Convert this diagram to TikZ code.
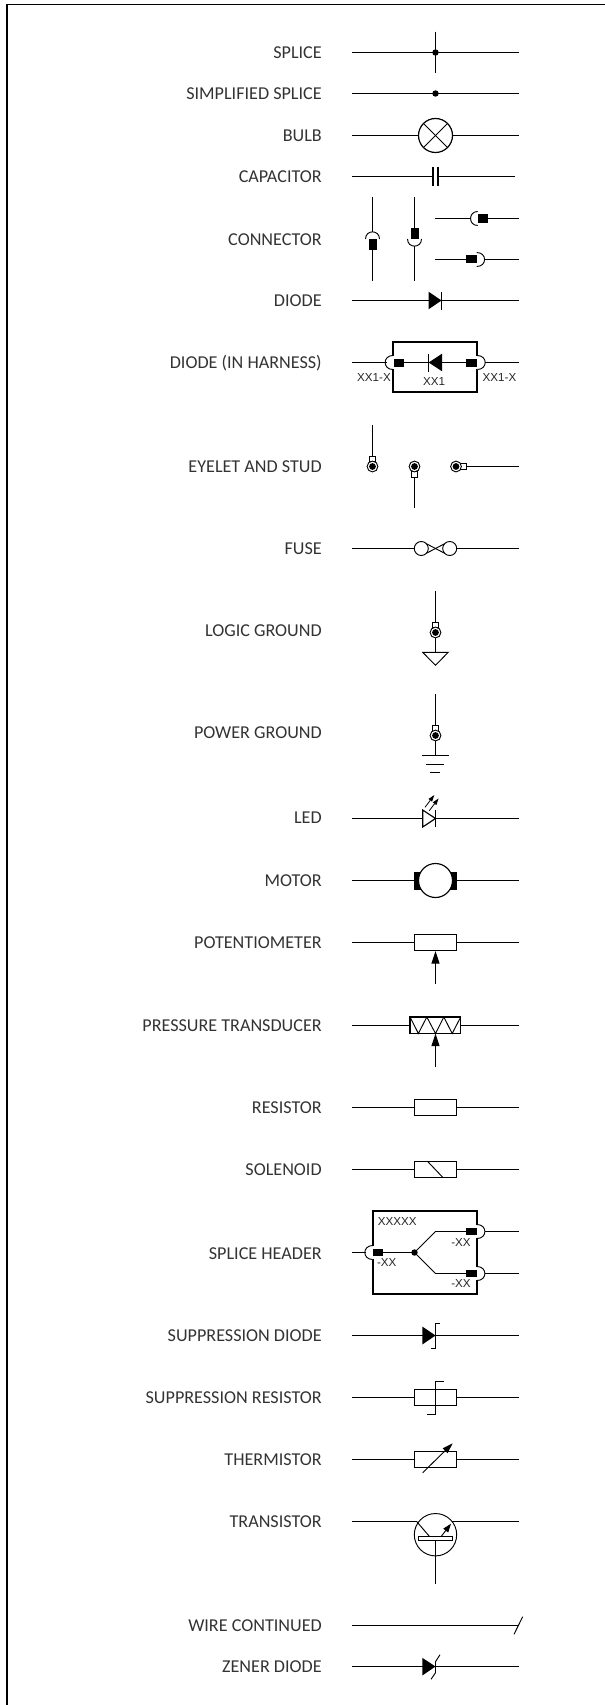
\documentclass[tikz,border=0pt]{standalone}
\usepackage{fontspec}
\setmainfont{Carlito}
\newfontfamily\tagfont{Liberation Sans}
\usetikzlibrary{arrows.meta}

\tikzset{
	symname/.style = {anchor = east, inner sep = 0, text height = 8.8pt, text depth = 0pt,
		font = \fontsize{13.6}{14}\selectfont, text = black!80},
	tagname/.style = {inner sep = 0, text height = 6.3pt, text depth = 0pt,
		font = \tagfont\fontsize{8.7}{9}\selectfont, text = black!85},
	wire/.style = {line width = 0.9pt},
	thinwire/.style = {line width = 0.7pt},
	frame/.style = {line width = 1pt},
	boxframe/.style = {line width = 1.3pt},
	plate/.style = {line width = 1.5pt},
	body/.style = {line width = 0.85pt, fill = white},
	pointer/.style = {line width = 0.9pt, -{Triangle[length = 9.5pt, width = 6pt]}},
	smallpointer/.style = {line width = 0.6pt, -{Triangle[length = 5pt, width = 3.2pt]}}
}

% resistor body at height #1
\newcommand{\resbody}[1]{\draw[body] (414.5, #1-8.4) rectangle (456.5, #1+8.4);}
% eyelet ring at (#1, #2)
\newcommand{\ringat}[2]{
	\draw[thinwire, fill = white] (#1, #2) circle (5.4);
	\fill (#1, #2) circle (3.4);
}
% mating cap through the box edge at x = #1
\newcommand{\capright}[2]{
	\fill[white] (#1-1.5, #2-6.5) rectangle (#1+1.5, #2+6.5);
	\draw[thinwire, fill = white] (#1, #2-7) .. controls +(10.5, 0) and +(10.5, 0) .. (#1, #2+7);
}
\newcommand{\capleft}[2]{
	\fill[white] (#1-1.5, #2-6.5) rectangle (#1+1.5, #2+6.5);
	\draw[thinwire, fill = white] (#1, #2-7) .. controls +(-10.5, 0) and +(-10.5, 0) .. (#1, #2+7);
}

\begin{document}
\begin{tikzpicture}[x=0.75pt, y=-0.75pt]
\useasboundingbox (0, 0) rectangle (605, 1705);
\draw[frame] (605, 4.5) -- (7, 4.5) -- (7, 1705);

\node[symname] (splice) at (322, 52.5) {SPLICE};
\node[symname] (simplified) at (322, 94) {SIMPLIFIED SPLICE};
\node[symname] (bulb) at (322, 135.5) {BULB};
\node[symname] (capacitor) at (322, 176.5) {CAPACITOR};
\node[symname] (connector) at (322, 239.5) {CONNECTOR};
\node[symname] (diode) at (322, 300.5) {DIODE};
\node[symname] (harness) at (322, 363) {DIODE (IN HARNESS)};
\node[symname] (eyelet) at (322, 466.5) {EYELET AND STUD};
\node[symname] (fuse) at (322, 549) {FUSE};
\node[symname] (logic) at (322, 631) {LOGIC GROUND};
\node[symname] (power) at (322, 733) {POWER GROUND};
\node[symname] (led) at (322, 818) {LED};
\node[symname] (motor) at (322, 880.5) {MOTOR};
\node[symname] (pot) at (322, 943) {POTENTIOMETER};
\node[symname] (pressure) at (322, 1025.5) {PRESSURE TRANSDUCER};
\node[symname] (resistor) at (322, 1108) {RESISTOR};
\node[symname] (solenoid) at (322, 1170) {SOLENOID};
\node[symname] (header) at (322, 1254) {SPLICE HEADER};
\node[symname] (suppdiode) at (322, 1335.5) {SUPPRESSION DIODE};
\node[symname] (suppres) at (322, 1398) {SUPPRESSION RESISTOR};
\node[symname] (thermistor) at (322, 1459.5) {THERMISTOR};
\node[symname] (transistor) at (322, 1522) {TRANSISTOR};
\node[symname] (continued) at (322, 1625.5) {WIRE CONTINUED};
\node[symname] (zener) at (322, 1666.5) {ZENER DIODE};

% splices
\draw[wire] (352, 52.5) -- (518.7, 52.5);
\draw[wire] (435.5, 31.7) -- (435.5, 73.5);
\fill (435.5, 52.5) circle (3.2);
\draw[wire] (352, 93.5) -- (518.7, 93.5);
\fill (435.5, 93.5) circle (3.2);

% bulb
\draw[wire] (352, 135.5) -- (518.7, 135.5);
\draw[body, line width = 0.9pt] (435.5, 135.5) circle (17);
\draw[thinwire] (423.5, 123.5) -- (447.5, 147.5);
\draw[thinwire] (423.5, 147.5) -- (447.5, 123.5);

% capacitor
\draw[wire] (352, 176.5) -- (432.5, 176.5);
\draw[wire] (438.5, 176.5) -- (514.7, 176.5);
\draw[plate] (432.7, 167) -- (432.7, 186);
\draw[plate] (438.3, 167) -- (438.3, 186);

% connectors
\draw[wire] (372.5, 197.3) -- (372.5, 232);
\draw[wire] (372.5, 250) -- (372.5, 280.7);
\draw[thinwire] (365.5, 239) .. controls +(0, -9.5) and +(0, -9.5) .. (379.5, 239);
\fill (368.7, 239.3) rectangle (376.6, 250);
\draw[wire] (414.5, 197.3) -- (414.5, 228.3);
\draw[wire] (414.5, 246) -- (414.5, 280.7);
\draw[thinwire] (407.5, 239) .. controls +(0, 9.5) and +(0, 9.5) .. (421.5, 239);
\fill (410.6, 228.3) rectangle (418.6, 239);
\draw[wire] (435, 218.5) -- (470.3, 218.5);
\draw[wire] (487.7, 218.5) -- (518.7, 218.5);
\draw[thinwire] (477.7, 211.5) .. controls +(-9.5, 0) and +(-9.5, 0) .. (477.7, 225.5);
\fill (477.7, 214.3) rectangle (487.7, 222.7);
\draw[wire] (435, 259.5) -- (466, 259.5);
\draw[wire] (484.7, 259.5) -- (518.7, 259.5);
\draw[thinwire] (476.7, 252.5) .. controls +(10.5, 0) and +(10.5, 0) .. (476.7, 266.5);
\fill (466, 255.5) rectangle (476.7, 263.5);

% diode
\draw[wire] (352, 300.5) -- (518.7, 300.5);
\fill (428.7, 291.8) -- (441.5, 300.5) -- (428.7, 309.2) -- cycle;
\draw[thinwire] (441.5, 291.8) -- (441.5, 309.7);

% diode in harness
\draw[boxframe] (393, 342.3) rectangle (477.3, 392.3);
\capleft{393}{362.5}
\capright{477.3}{362.5}
\draw[wire] (352, 362.5) -- (386.5, 362.5);
\draw[wire] (485, 362.5) -- (518.7, 362.5);
\draw[thinwire] (404, 362.5) -- (466.5, 362.5);
\fill (394, 358.5) rectangle (404.3, 366.8);
\fill (466.3, 358.5) rectangle (477, 366.8);
\fill (442, 353.7) -- (428.7, 362.5) -- (442, 371.3) -- cycle;
\draw[thinwire] (428.7, 353.7) -- (428.7, 371.7);
\node[tagname] (leftpin) at (374, 377.3) {XX1-X};
\node[tagname] (rightpin) at (499.5, 377.3) {XX1-X};
\node[tagname] (diodetag) at (434, 381) {XX1};

% eyelets
\draw[thinwire] (372.5, 425) -- (372.5, 456);
\draw[thinwire] (369.8, 456) rectangle (375.2, 461.5);
\ringat{372.5}{466.5}
\draw[thinwire] (414.5, 477) -- (414.5, 508.3);
\draw[thinwire] (411.8, 471) rectangle (417.2, 477);
\ringat{414.5}{466.5}
\draw[thinwire] (466.7, 466.5) -- (518.7, 466.5);
\draw[thinwire] (460.8, 463.8) rectangle (466.7, 469.2);
\ringat{456}{466.5}

% fuse
\draw[wire] (352, 548.5) -- (414.3, 548.5);
\draw[wire] (456.7, 548.5) -- (518.7, 548.5);
\draw[thinwire] (421.3, 548.5) circle (7);
\draw[thinwire] (449.7, 548.5) circle (7);
\draw[thinwire] (426.7, 543.9) -- (444.3, 553.1);
\draw[thinwire] (426.7, 553.1) -- (444.3, 543.9);

% logic ground
\draw[thinwire] (435.5, 590.7) -- (435.5, 622);
\draw[thinwire] (432.8, 622) rectangle (438.2, 627.5);
\ringat{435.5}{632.5}
\draw[thinwire] (435.5, 637.9) -- (435.5, 652.3);
\draw[thinwire] (422.7, 652.3) -- (448.2, 652.3) -- (435.5, 665.3) -- cycle;

% power ground
\draw[thinwire] (435.5, 694) -- (435.5, 725.7);
\draw[thinwire] (432.8, 725.7) rectangle (438.2, 731);
\ringat{435.5}{735.5}
\draw[thinwire] (435.5, 741) -- (435.5, 756);
\draw[wire] (422.3, 755.5) -- (448.7, 755.5);
\draw[wire] (426, 764.5) -- (444, 764.5);
\draw[wire] (430, 772.5) -- (440, 772.5);

% led
\draw[wire] (352, 818.5) -- (518.7, 818.5);
\draw[body] (422.7, 810) -- (435.5, 818.5) -- (422.7, 827) -- cycle;
\draw[thinwire] (435.5, 810) -- (435.5, 827);
\draw[smallpointer] (425, 807.3) -- (434.3, 795);
\draw[smallpointer] (429.3, 810.7) -- (438.6, 798.4);

% motor
\draw[wire] (352, 880.5) -- (518.7, 880.5);
\fill (414, 871.5) rectangle (423, 889.5);
\fill (448, 871.5) rectangle (457, 889.5);
\draw[body] (435.5, 880.5) circle (17);

% potentiometer
\draw[wire] (352, 942.5) -- (518.7, 942.5);
\resbody{942.5}
\draw[pointer] (435.5, 984) -- (435.5, 951);

% pressure transducer
\draw[wire] (352, 1025.5) -- (518.7, 1025.5);
\draw[body] (410, 1017) rectangle (460.7, 1033.5);
\draw[thinwire] (410, 1017) -- (418.4, 1033.5) -- (426.8, 1017) -- (435.5, 1033.5) --
	(443.8, 1017) -- (452.2, 1033.5) -- (460.7, 1017);
\draw[pointer] (435.5, 1066.7) -- (435.5, 1033.5);

% resistor
\draw[wire] (352, 1107.5) -- (518.7, 1107.5);
\resbody{1107.5}

% solenoid
\draw[wire] (352, 1169.5) -- (518.7, 1169.5);
\resbody{1169.5}
\draw[thinwire] (427.3, 1161.1) -- (443.3, 1177.9);

% splice header
\draw[boxframe] (372.7, 1211.3) rectangle (477, 1294.3);
\capleft{372.7}{1252.5}
\capright{477}{1231.5}
\capright{477}{1273.5}
\draw[wire] (352, 1252.5) -- (365.5, 1252.5);
\draw[thinwire] (373, 1252.5) -- (414.5, 1252.5);
\draw[thinwire] (466, 1231.5) -- (435.5, 1231.5) -- (414.5, 1252.5) -- (435.5, 1273.5) -- (466, 1273.5);
\draw[wire] (485, 1231.5) -- (518.7, 1231.5);
\draw[wire] (485, 1273.5) -- (518.7, 1273.5);
\fill (414.5, 1252.5) circle (3.2);
\fill (373.3, 1248.7) rectangle (383.3, 1256.4);
\fill (466.3, 1227.7) rectangle (477, 1235.4);
\fill (466.3, 1269.7) rectangle (477, 1277.4);
\node[tagname] (headertag) at (397.2, 1221.3) {XXXXX};
\node[tagname] (headerin) at (386.7, 1262.7) {-XX};
\node[tagname] (headerup) at (461, 1242) {-XX};
\node[tagname] (headerlow) at (461, 1283.7) {-XX};

% suppression diode
\draw[wire] (352, 1335.5) -- (518.7, 1335.5);
\fill (422.3, 1326.5) -- (435.5, 1335.5) -- (422.3, 1344.5) -- cycle;
\draw[thinwire] (439.7, 1323.3) -- (435.5, 1323.3) -- (435.5, 1348.3) -- (431, 1348.3);

% suppression resistor
\draw[wire] (352, 1397.5) -- (518.7, 1397.5);
\resbody{1397.5}
\draw[thinwire] (444, 1381) -- (435.5, 1381) -- (435.5, 1414.3) -- (427, 1414.3);

% thermistor
\draw[wire] (352, 1459.5) -- (518.7, 1459.5);
\resbody{1459.5}
\draw[thinwire, -{Triangle[length = 8pt, width = 5pt]}] (422.7, 1472.7) -- (452.7, 1443.3);

% transistor
\draw[wire] (352, 1521.5) -- (416.7, 1521.5);
\draw[wire] (452.3, 1521.5) -- (518.7, 1521.5);
\draw[thinwire] (435.5, 1534.7) circle (21.2);
\draw[thinwire] (418.5, 1536.3) rectangle (452, 1540.7);
\draw[thinwire] (416.7, 1521.5) -- (429.3, 1536.3);
\draw[thinwire, -{Triangle[length = 6.5pt, width = 4.5pt]}] (441.3, 1536.3) -- (451, 1523.7);
\draw[wire] (435.5, 1540.7) -- (435.5, 1584.3);

% wire continued
\draw[wire] (352, 1625.5) -- (518.7, 1625.5);
\draw[thinwire] (514, 1634.3) -- (522.7, 1616.7);

% zener diode
\draw[wire] (352, 1666.5) -- (518.7, 1666.5);
\fill (422.3, 1657.8) -- (435.5, 1666.5) -- (422.3, 1675.5) -- cycle;
\draw[thinwire] (440, 1654.7) -- (435.5, 1661.7) -- (435.5, 1672.7) -- (431, 1679.3);

\end{tikzpicture}
\end{document}
